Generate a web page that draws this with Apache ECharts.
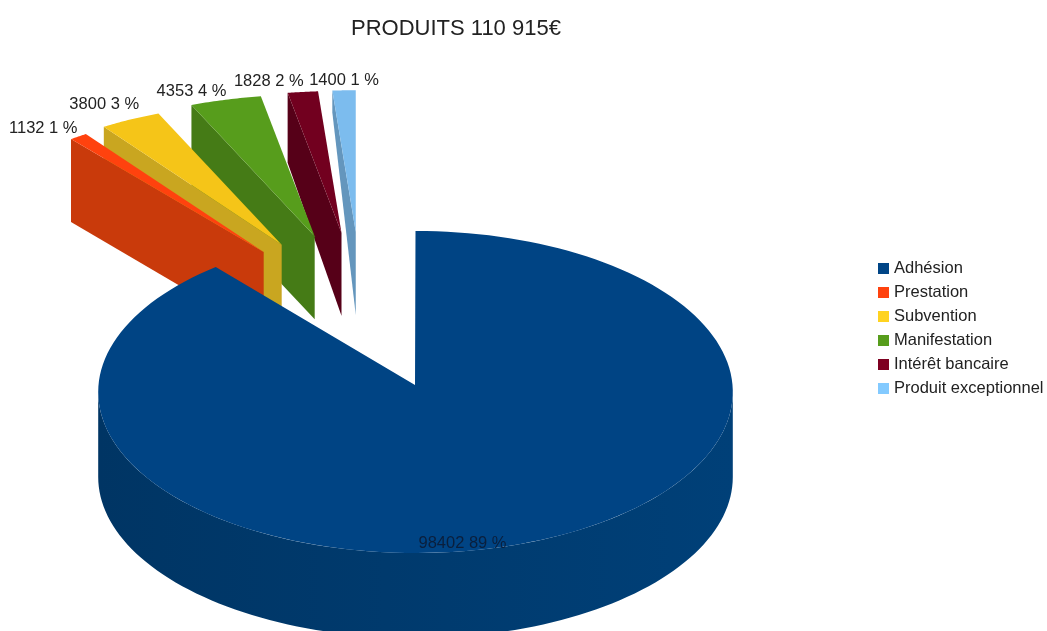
<!DOCTYPE html>
<html>
<head>
<meta charset="utf-8">
<style>html,body{margin:0;padding:0;background:#fff}#c{width:1047px;height:631px}</style>
<script src="https://cdn.jsdelivr.net/npm/echarts@6/dist/echarts.min.js"></script>
</head>
<body>
<div id="c"></div>
<script>
const categories = ['Adhésion', 'Prestation', 'Subvention', 'Manifestation', 'Intérêt bancaire', 'Produit exceptionnel'];
const values = [98402, 1132, 3800, 4353, 1828, 1400];
const topColors = ['#004484', '#ff420e', '#f5c518', '#579d1c', '#72001f', '#7cbcee'];
const sideColors = ['#003a70', '#c93a0b', '#c9a620', '#457b16', '#560018', '#6496bd'];
const legendColors = ['#004586', '#ff420e', '#ffd320', '#579d1c', '#7e0021', '#83caff'];
const labelShift = [[0, 158], [-35, -8], [-26, -15], [-34, -8], [-34, -10], [0, -10]];
const outerDepth = [0, 83, 83, 83, 70, 22];

const total = values.reduce((a, b) => a + b, 0);
const TAU = Math.PI * 2;
// Camera model of the tilted pie
const apex = [415, 385], rimCx = 415.5, R = 317, tiltY = 160.7, persp = 0.0435, depthMain = 85;
const sliceRX = 296, sliceRY = 176, slicePersp = 0.241, depthSlice = 83;
const explodeShift = [-53, -62], explodeX = 157, explodeY = 91;

function sliceAngles(i) {
  let before = 0;
  for (let k = 0; k < i; k++) before += values[k];
  return [before / total * TAU, (before + values[i]) / total * TAU];
}
function mainPoint(t, dy) {
  const x = Math.sin(t), z = Math.cos(t), w = 1 + persp * z;
  return [rimCx + R * x / w, apex[1] - tiltY * z / w + (dy || 0)];
}
function arc(fn, a, b, n) {
  const pts = [];
  for (let j = 0; j <= n; j++) pts.push(fn(a + (b - a) * j / n));
  return pts;
}
function renderItem(params, api) {
  const i = params.seriesIndex;
  const [a0, a1] = sliceAngles(i);
  const pct = Math.round(api.value(0) / total * 100);
  const text = api.value(0) + ' ' + pct + ' %';
  const labelStyle = (x, y) => ({
    type: 'text', z2: 20, x: x, y: y,
    style: { text: text, align: 'center', verticalAlign: 'middle',
      font: '16.5px "Liberation Sans", Arial, sans-serif',
      fill: i === 0 ? '#0a1f3c' : '#222222' }
  });
  if (i === 0) {
    const top = arc(t => mainPoint(t), a0, a1, 160);
    top.push(apex);
    const wide = Math.acos(-persp);
    const upper = arc(t => mainPoint(t), wide, TAU - wide, 100);
    const lower = arc(t => mainPoint(t, depthMain), TAU - wide, wide, 100);
    return { type: 'group', children: [
      { type: 'polygon', shape: { points: upper.concat(lower) },
        style: { fill: new echarts.graphic.LinearGradient(1, 0, 0, 0, [
          { offset: 0, color: '#004078' }, { offset: 1, color: '#003564' }]) } },
      { type: 'polygon', z2: 2, shape: { points: top }, style: { fill: topColors[0] } },
      labelStyle(apex[0] + 47.5, apex[1] + labelShift[0][1])
    ] };
  }
  const mid = (a0 + a1) / 2;
  const tip = [apex[0] + explodeShift[0] + explodeX * Math.sin(mid),
               apex[1] + explodeShift[1] - explodeY * Math.cos(mid)];
  const rim = t => {
    const c = Math.cos(t);
    return [tip[0] + sliceRX * Math.sin(t), tip[1] - sliceRY * c / (1 + slicePersp * c)];
  };
  const top = arc(rim, a0, a1, 24);
  top.push(tip);
  const p = rim(a0), om = rim(mid);
  const side = [p, tip, [tip[0], tip[1] + depthSlice], [p[0], p[1] + outerDepth[i]]];
  return { type: 'group', children: [
    { type: 'polygon', shape: { points: side }, style: { fill: sideColors[i] } },
    { type: 'polygon', z2: 2, shape: { points: top }, style: { fill: topColors[i] } },
    labelStyle(om[0] + labelShift[i][0], om[1] + labelShift[i][1])
  ] };
}
const chart = echarts.init(document.getElementById('c'), null, { renderer: 'canvas' });
chart.setOption({
  animation: false,
  backgroundColor: '#ffffff',
  title: { text: 'PRODUITS 110 915€', left: 351, top: 18, padding: 0,
    textStyle: { fontFamily: '"Liberation Sans", Arial, sans-serif', fontSize: 22, fontWeight: 'normal', color: '#222222' } },
  legend: { orient: 'vertical', left: 878, top: 260, padding: 0, itemGap: 7, itemWidth: 11, itemHeight: 11,
    icon: 'rect', data: categories,
    textStyle: { fontFamily: '"Liberation Sans", Arial, sans-serif', fontSize: 16.5, color: '#222222' } },
  series: categories.map((name, i) => ({
    type: 'custom', name: name, coordinateSystem: 'none', renderItem: renderItem,
    z: i === 0 ? 10 : 10 - i,
    itemStyle: { color: legendColors[i] },
    data: [[values[i]]], silent: true
  }))
});
</script>
</body>
</html>
